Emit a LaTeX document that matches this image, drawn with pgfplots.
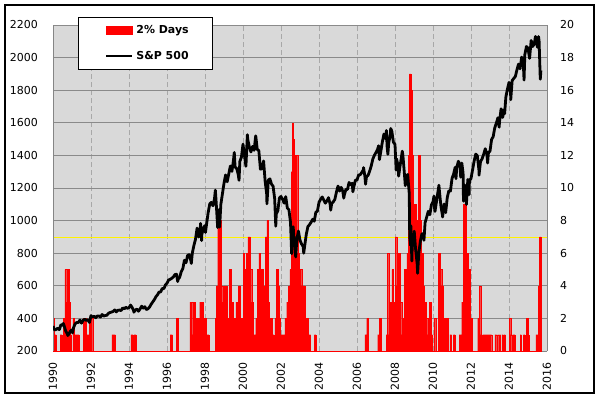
\documentclass[border=0pt]{standalone}
\usepackage{pgfplots}
\pgfplotsset{compat=1.18}
\usepackage{pgfplotstable}
\usepackage{fontspec}
\setmainfont{DejaVu Sans}
\definecolor{plotbg}{HTML}{D9D9D9}
\definecolor{gridc}{HTML}{8A8A8A}
\definecolor{vgrid}{HTML}{A8A8A8}
\definecolor{axisc}{HTML}{868686}

\pgfplotstableread{
x v
1990.00 2
1990.08 1
1990.17 0
1990.37 1
1990.47 0
1990.55 2
1990.63 5
1990.72 3
1990.77 5
1990.84 3
1990.90 1
1990.97 0
1991.04 2
1991.10 1
1991.37 0
1991.60 2
1991.77 0
1991.80 1
1991.90 2
1992.09 0
1993.10 1
1993.28 0
1994.10 1
1994.22 0
1994.27 1
1994.37 0
1996.16 1
1996.28 0
1996.50 2
1996.60 0
1997.21 3
1997.35 1
1997.42 3
1997.49 1
1997.56 2
1997.72 3
1997.90 2
1998.05 1
1998.21 0
1998.53 2
1998.60 4
1998.67 8
1998.83 4
1998.93 3
1999.00 4
1999.17 2
1999.28 5
1999.36 3
1999.50 2
1999.62 3
1999.75 4
1999.83 2
2000.00 6
2000.08 5
2000.17 6
2000.25 7
2000.37 5
2000.46 3
2000.54 1
2000.67 2
2000.75 5
2000.83 6
2000.92 5
2001.08 4
2001.17 7
2001.25 8
2001.33 3
2001.40 2
2001.54 1
2001.63 0
2001.68 2
2001.76 5
2001.84 4
2001.92 2
2001.98 1
2002.21 2
2002.30 3
2002.40 4
2002.47 5
2002.53 11
2002.60 14
2002.65 13
2002.70 8
2002.77 12
2002.88 6
2002.95 5
2003.09 4
2003.26 2
2003.44 1
2003.56 0
2003.76 1
2003.84 0
2006.42 1
2006.51 2
2006.58 0
2007.09 1
2007.17 2
2007.25 0
2007.53 1
2007.60 6
2007.67 1
2007.74 3
2007.83 5
2007.91 3
2008.00 7
2008.09 4
2008.17 6
2008.26 3
2008.35 1
2008.42 2
2008.50 5
2008.58 3
2008.63 6
2008.70 12
2008.76 17
2008.84 16
2008.90 12
2008.97 9
2009.13 8
2009.22 12
2009.32 8
2009.40 6
2009.48 4
2009.56 3
2009.64 2
2009.72 1
2009.80 3
2009.90 1
2009.98 0
2010.05 2
2010.14 0
2010.28 6
2010.37 5
2010.46 4
2010.54 2
2010.80 0
2010.89 1
2010.98 0
2011.07 1
2011.16 0
2011.38 1
2011.51 3
2011.60 9
2011.77 6
2011.86 5
2011.96 2
2012.04 0
2012.35 2
2012.44 4
2012.51 1
2012.55 0
2012.61 1
2013.09 0
2013.26 1
2013.35 0
2013.40 1
2013.46 0
2013.49 1
2013.56 0
2013.63 1
2013.70 0
2013.74 1
2013.81 0
2014.02 2
2014.09 1
2014.14 0
2014.19 1
2014.32 0
2014.58 1
2014.65 0
2014.76 1
2014.84 0
2014.90 2
2015.00 1
2015.05 0
2015.42 1
2015.54 4
2015.61 7
2015.68 0
}\bars

\pgfplotstableread{
y m v
1990 0 353
1990 1 329
1990 2 332
1990 3 340
1990 4 331
1990 5 361
1990 6 358
1990 6.5 369
1990 7 356
1990 8 323
1990 9 306
1990 9.35 295
1990 10 304
1990 11 322
1990 12 330
1991 0.3 311
1991 1 344
1991 2 367
1991 3 375
1991 4 375
1991 5 390
1991 6 371
1991 7 388
1991 8 395
1991 9 388
1991 10 392
1991 11 375
1991 12 417
1992 1 409
1992 2 413
1992 3 404
1992 4 415
1992 5 415
1992 6 408
1992 7 424
1992 8 414
1992 9 418
1992 10 419
1992 11 431
1992 12 436
1993 1 439
1993 2 443
1993 3 452
1993 4 440
1993 5 450
1993 6 451
1993 7 448
1993 8 464
1993 9 459
1993 10 468
1993 11 462
1993 12 466
1994 1 482
1994 2 467
1994 3 446
1994 3.1 438
1994 4 451
1994 5 457
1994 6 444
1994 7 458
1994 8 475
1994 9 463
1994 10 472
1994 11 454
1994 12 459
1995 1 470
1995 2 487
1995 3 501
1995 4 515
1995 5 533
1995 6 545
1995 7 562
1995 8 562
1995 9 584
1995 10 582
1995 11 605
1995 12 616
1996 1 636
1996 2 640
1996 3 646
1996 4 654
1996 5 669
1996 6 671
1996 6.75 626
1996 7 640
1996 8 652
1996 9 687
1996 10 705
1996 11 757
1996 12 741
1997 1 786
1997 2 791
1997 3 757
1997 3.35 737
1997 4 801
1997 5 848
1997 6 885
1997 7 954
1997 8 899
1997 9 947
1997 9.2 983
1997 9.87 877
1997 10 915
1997 11 955
1997 12 970
1998 0.3 927
1998 1 980
1998 2 1049
1998 3 1102
1998 4 1112
1998 5 1091
1998 6 1134
1998 6.55 1187
1998 7 1121
1998 8 957
1998 8.7 1066
1998 9 1017
1998 9.25 960
1998 10 1099
1998 11 1164
1998 12 1229
1999 1 1280
1999 2 1238
1999 3 1286
1999 4 1335
1999 5 1302
1999 6 1373
1999 6.5 1418
1999 7 1329
1999 8 1320
1999 9 1283
1999 9.5 1247
1999 10 1363
1999 11 1389
1999 12 1469
2000 1 1394
2000 1.85 1333
2000 2 1366
2000 2.77 1527
2000 3 1499
2000 4 1452
2000 5 1421
2000 6 1455
2000 7 1431
2000 8 1518
2000 8.05 1520
2000 9 1437
2000 10 1429
2000 11 1315
2000 12 1320
2001 1 1366
2001 2 1240
2001 3 1160
2001 3.12 1103
2001 4 1249
2001 5 1256
2001 6 1224
2001 7 1211
2001 8 1134
2001 8.7 966
2001 9 1041
2001 10 1060
2001 11 1139
2001 12 1148
2002 1 1130
2002 2 1107
2002 3 1147
2002 4 1077
2002 5 1067
2002 6 990
2002 6.73 797
2002 7 912
2002 7.7 962
2002 8 916
2002 9 815
2002 9.28 777
2002 10 886
2002 11 936
2002 12 880
2003 1 856
2003 2 841
2003 2.35 800
2003 3 848
2003 4 917
2003 5 964
2003 6 975
2003 7 990
2003 8 1008
2003 9 996
2003 10 1051
2003 11 1058
2003 12 1112
2004 1 1131
2004 2 1145
2004 3 1126
2004 4 1107
2004 5 1121
2004 6 1141
2004 7 1102
2004 7.4 1064
2004 8 1104
2004 9 1115
2004 10 1130
2004 11 1174
2004 12 1212
2005 1 1181
2005 2 1204
2005 3 1181
2005 3.65 1138
2005 4 1157
2005 5 1192
2005 6 1191
2005 7 1234
2005 8 1220
2005 9 1229
2005 9.4 1177
2005 10 1207
2005 11 1249
2005 12 1248
2006 1 1280
2006 2 1281
2006 3 1295
2006 4 1311
2006 4.15 1325
2006 5 1270
2006 5.4 1223
2006 6 1270
2006 7 1277
2006 8 1304
2006 9 1336
2006 10 1378
2006 11 1401
2006 12 1418
2007 1 1438
2007 1.65 1459
2007 2 1407
2007 2.15 1374
2007 3 1421
2007 4 1482
2007 5 1531
2007 6 1503
2007 6.6 1553
2007 7 1455
2007 7.5 1407
2007 8 1474
2007 9 1527
2007 9.3 1565
2007 10 1549
2007 11 1481
2007 12 1468
2008 0.72 1310
2008 1 1379
2008 2 1331
2008 2.3 1273
2008 3 1323
2008 4 1386
2008 4.6 1426
2008 5 1400
2008 6 1280
2008 6.5 1214
2008 7 1267
2008 8 1283
2008 9 1166
2008 9.3 899
2008 9.85 848
2008 10 969
2008 10.65 752
2008 11 896
2008 12 903
2009 0.15 935
2009 1 826
2009 2 735
2009 2.3 677
2009 3 798
2009 4 873
2009 5 919
2009 6 919
2009 6.3 879
2009 7 987
2009 8 1021
2009 9 1057
2009 10 1036
2009 11 1096
2009 12 1115
2010 0.6 1150
2010 1 1074
2010 1.25 1056
2010 2 1104
2010 3 1169
2010 3.75 1217
2010 4 1187
2010 5 1089
2010 6 1031
2010 6.05 1022
2010 7 1102
2010 8 1049
2010 9 1141
2010 10 1183
2010 11 1181
2010 12 1258
2011 1 1286
2011 2 1327
2011 2.5 1257
2011 3 1326
2011 4 1364
2011 5 1345
2011 5.5 1266
2011 6 1321
2011 6.2 1353
2011 7 1292
2011 7.25 1119
2011 8 1219
2011 9 1131
2011 9.1 1099
2011 10 1253
2011 10.8 1159
2011 11 1247
2011 12 1258
2012 1 1312
2012 2 1366
2012 3 1408
2012 4 1398
2012 5 1310
2012 5.05 1278
2012 6 1362
2012 7 1379
2012 8 1407
2012 9 1441
2012 10 1412
2012 10.5 1353
2012 11 1416
2012 12 1426
2013 1 1498
2013 2 1515
2013 3 1569
2013 4 1598
2013 5 1631
2013 5.8 1573
2013 6 1606
2013 7 1686
2013 8 1633
2013 9 1682
2013 9.25 1656
2013 10 1757
2013 11 1806
2013 12 1848
2014 1 1783
2014 1.1 1742
2014 2 1859
2014 3 1872
2014 4 1884
2014 5 1924
2014 6 1960
2014 7 1931
2014 8 2003
2014 9 1972
2014 9.5 1862
2014 10 2018
2014 11 2068
2014 12 2059
2015 1 1995
2015 2 2105
2015 3 2068
2015 4 2086
2015 4.7 2130
2015 5 2107
2015 6 2063
2015 6.65 2129
2015 7 2104
2015 7.75 1867
2015 8.15 1920
}\spx

\begin{document}
\begin{tikzpicture}
\useasboundingbox (0bp,0bp) rectangle (598bp,-399bp);
\draw[line width=1.3bp] (5bp,-5bp) rectangle (594bp,-393bp);

\begin{axis}[
  at={(53bp,-351bp)}, anchor=south west,
  width=494bp, height=326bp, scale only axis,
  xmin=1990, xmax=2016, ymin=0, ymax=20,
  axis x line*=bottom, axis y line*=right,
  axis line style={draw=axisc, line width=0.9bp, -},
  axis background/.style={fill=plotbg},
  xtick={1990,1992,...,2016}, ytick={0,2,...,20},
  major tick length=0pt,
  xmajorgrids, ymajorgrids,
  x grid style={vgrid, line width=0.8bp, dash pattern=on 5bp off 3bp},
  y grid style={gridc, line width=1bp},
  tick label style={font=\fontsize{11}{13}\selectfont},
  /pgf/number format/assume math mode=true,
  /pgf/number format/1000 sep={},
  xticklabel style={rotate=90, anchor=east, inner sep=0pt},
  xticklabel shift=11bp,
  yticklabel style={anchor=west, inner sep=0pt},
  yticklabel shift=13bp,
]
\addplot[yellow, line width=0.8bp] coordinates {(1990,7) (2016,7)};
\addplot[fill=red, draw=red, line width=0.3bp, const plot] table[x=x, y=v] {\bars} \closedcycle;
\end{axis}

\begin{axis}[
  at={(53bp,-351bp)}, anchor=south west,
  width=494bp, height=326bp, scale only axis,
  xmin=1990, xmax=2016, ymin=200, ymax=2200,
  axis y line*=left, hide x axis,
  axis line style={draw=axisc, line width=0.9bp, -},
  ytick={200,400,...,2200},
  major tick length=0pt,
  tick label style={font=\fontsize{11}{13}\selectfont},
  /pgf/number format/assume math mode=true,
  /pgf/number format/1000 sep={},
  yticklabel style={anchor=east, inner sep=0pt},
  yticklabel shift=15bp,
  legend cell align=left,
  legend style={at={(axis description cs:0.0496,1.024)}, anchor=north west,
    draw=black, fill=white, line width=0.9bp,
    font=\bfseries\fontsize{11}{13}\selectfont,
    inner xsep=23.5bp, inner ysep=7.5bp, row sep=15.5bp,
    nodes={inner sep=0pt, text height=8bp, text depth=2.5bp},
    /tikz/every odd column/.append style={column sep=3bp}},
]
\addlegendimage{legend image code/.code={\path[draw=none] (-5bp,0) -- (0,0); \fill[red] (0bp,-3.8bp) rectangle (25.5bp,3.8bp);}}
\addlegendentry{2\% Days}
\addplot[black, line width=2.8bp, line join=round,
  legend image code/.code={\path[draw=none] (-5bp,0) -- (0,0); \draw[black,line width=2bp] (0bp,0bp) -- (26bp,0bp);}]
  table[x expr=\thisrow{y}+\thisrow{m}/12, y=v] {\spx};
\addlegendentry{S\&P 500}
\end{axis}
\end{tikzpicture}
\end{document}
